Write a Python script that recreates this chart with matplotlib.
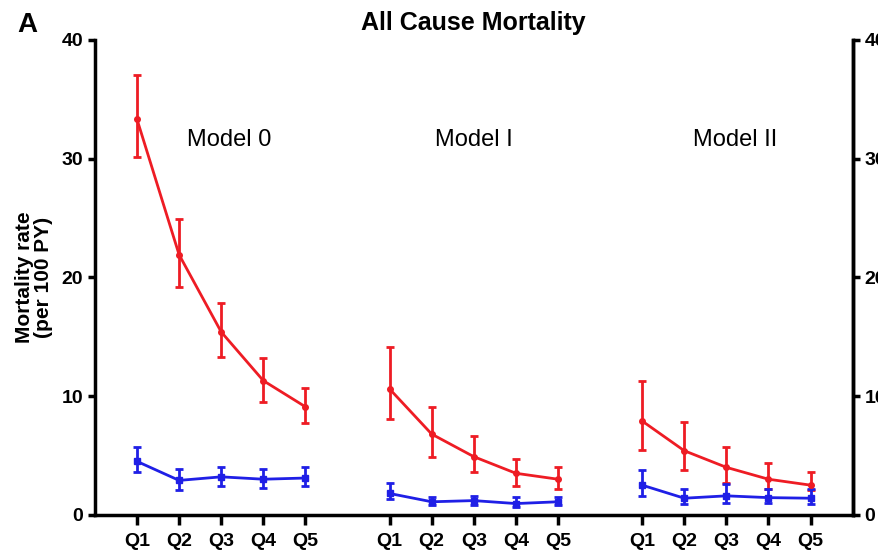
import numpy as np
import matplotlib.pyplot as plt

plt.rcParams['font.family'] = ['Liberation Sans', 'DejaVu Sans']

quintiles = ["Q1", "Q2", "Q3", "Q4", "Q5"]
models = ["Model 0", "Model I", "Model II"]

# red series (upper), value / upper / lower end of error bar
red_mid = [[33.3, 21.9, 15.4, 11.3, 9.1],
           [10.6, 6.8, 4.9, 3.5, 3.0],
           [7.9, 5.4, 4.0, 3.0, 2.5]]
red_hi = [[37.0, 24.9, 17.8, 13.2, 10.7],
          [14.1, 9.1, 6.6, 4.7, 4.0],
          [11.3, 7.8, 5.7, 4.4, 3.6]]
red_lo = [[30.1, 19.2, 13.3, 9.5, 7.7],
          [8.1, 4.9, 3.6, 2.4, 2.2],
          [5.5, 3.8, 2.7, 2.2, 2.1]]

# blue series (lower)
blue_mid = [[4.5, 2.9, 3.2, 3.0, 3.1],
            [1.8, 1.1, 1.2, 0.95, 1.1],
            [2.5, 1.4, 1.6, 1.45, 1.4]]
blue_hi = [[5.7, 3.9, 4.0, 3.9, 4.0],
           [2.7, 1.5, 1.6, 1.5, 1.5],
           [3.8, 2.2, 2.6, 2.2, 2.2]]
blue_lo = [[3.6, 2.1, 2.4, 2.3, 2.4],
           [1.3, 0.8, 0.8, 0.7, 0.8],
           [1.6, 0.95, 1.0, 1.0, 0.95]]

fig = plt.figure(figsize=(8.79, 5.53), dpi=100)
ax = fig.add_axes([0.108, 0.069, 0.862, 0.859])

red = "#ee1c24"
blue = "#1f1fe6"

xpos = []
for g in range(3):
    x = np.arange(5) + 1 + 6 * g
    xpos.extend(x)
    for mid, hi, lo, c, mk in [(red_mid, red_hi, red_lo, red, "o"),
                               (blue_mid, blue_hi, blue_lo, blue, "s")]:
        m = np.array(mid[g])
        err = [m - np.array(lo[g]), np.array(hi[g]) - m]
        ax.errorbar(x, m, yerr=err, color=c, lw=2, elinewidth=2,
                    capsize=3, capthick=2, marker=mk, ms=4)

label_x = [3.2, 9, 15.2]
for g, name in enumerate(models):
    ax.text(label_x[g], 31.6, name, ha="center", va="center", fontsize=17)

ax.set_xlim(0, 18)
ax.set_ylim(0, 40)
ax.set_xticks(xpos)
ax.set_xticklabels(quintiles * 3, fontsize=14, fontweight="bold")
ax.set_yticks([0, 10, 20, 30, 40])
ax.tick_params(axis="y", labelsize=14, width=2.5, length=5)
for lab in ax.get_yticklabels():
    lab.set_fontweight("bold")
ax.tick_params(axis="x", width=2.5, length=7, pad=6)
ax.spines["top"].set_visible(False)
for s in ["left", "right", "bottom"]:
    ax.spines[s].set_linewidth(2.5)

ax2 = ax.twinx()
ax2.set_ylim(0, 40)
ax2.set_yticks([0, 10, 20, 30, 40])
ax2.tick_params(axis="y", labelsize=14, width=2.5, length=5)
for lab in ax2.get_yticklabels():
    lab.set_fontweight("bold")
ax2.spines["top"].set_visible(False)
ax2.spines["right"].set_linewidth(2.5)

ax.set_ylabel("Mortality rate\n(per 100 PY)", fontsize=15, fontweight="bold",
              labelpad=6, linespacing=1.0)
fig.text(0.539, 0.958, "All Cause Mortality", fontsize=18, fontweight="bold",
         ha="center", va="center")
fig.text(0.02, 0.955, "A", fontsize=20, fontweight="bold", va="center")

fig.savefig("out.png", dpi=100)
